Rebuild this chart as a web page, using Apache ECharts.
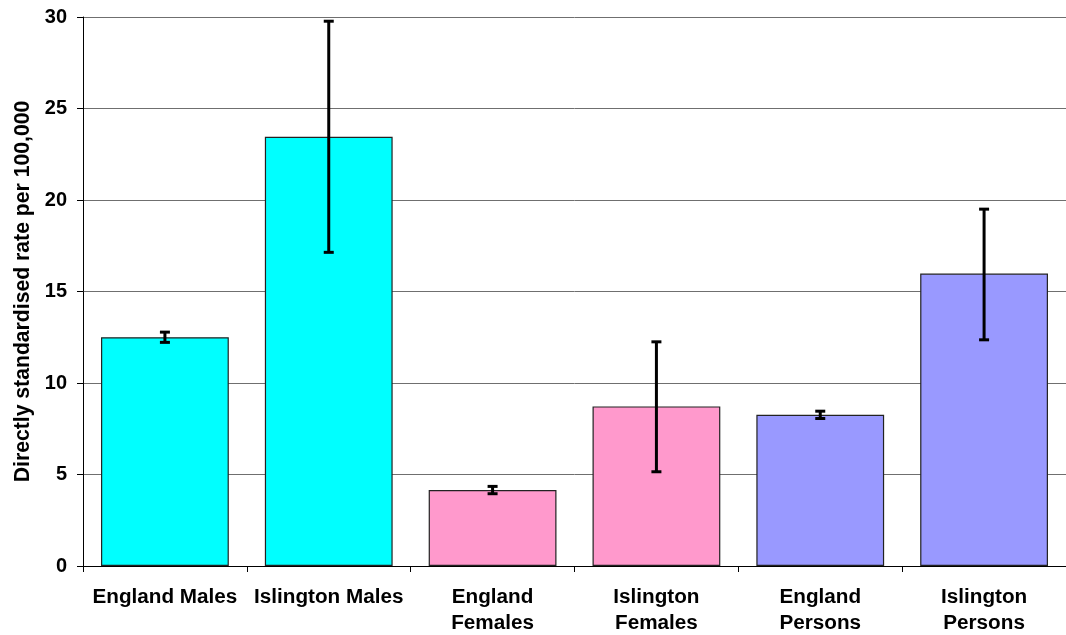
<!DOCTYPE html>
<html>
<head>
<meta charset="utf-8">
<script src="https://cdn.jsdelivr.net/npm/echarts@6/dist/echarts.min.js"></script>
<style>
  html, body { margin: 0; padding: 0; background: #fff; }
  #chart { width: 1066px; height: 635px; }
</style>
</head>
<body>
<div id="chart"></div>
<script>
// Directly standardised rates per 100,000 with 95% confidence intervals
const categories = ['England Males', 'Islington Males', 'England\nFemales', 'Islington\nFemales', 'England\nPersons', 'Islington\nPersons'];
const rates = [12.5, 23.45, 4.15, 8.72, 8.26, 15.98];
const lowerCI = [12.22, 17.14, 3.95, 5.15, 8.06, 12.36];
const upperCI = [12.78, 29.77, 4.35, 12.25, 8.46, 19.5];
const barColors = ['#00FFFF', '#00FFFF', '#FF99CC', '#FF99CC', '#9999FF', '#9999FF'];
const yTicks = [0, 5, 10, 15, 20, 25, 30];

const font = 'Liberation Sans, Arial, sans-serif';
const chart = echarts.init(document.getElementById('chart'), null, { renderer: 'canvas' });

chart.setOption({
  animation: false,
  grid: { left: 83, right: 0, top: 17, bottom: 69, containLabel: false, outerBoundsMode: 'none' },
  xAxis: {
    type: 'category',
    data: categories,
    axisLine: { lineStyle: { color: '#000', width: 1 } },
    axisTick: { show: true, length: 6, lineStyle: { color: '#000' }, alignWithLabel: false },
    axisLabel: {
      interval: 0, margin: 18, color: '#000', fontFamily: font,
      fontWeight: 'bold', fontSize: 20.7, lineHeight: 26
    }
  },
  yAxis: {
    type: 'value',
    min: yTicks[0], max: yTicks[yTicks.length - 1], interval: 5,
    name: 'Directly standardised rate per 100,000',
    nameLocation: 'middle', nameGap: 49, nameRotate: 90,
    nameTextStyle: { color: '#000', fontFamily: font, fontWeight: 'bold', fontSize: 21.2 },
    axisLine: { show: true, lineStyle: { color: '#000', width: 1 } },
    axisTick: { show: true, length: 6, lineStyle: { color: '#000' } },
    axisLabel: { margin: 16, color: '#000', fontFamily: font, fontWeight: 'bold', fontSize: 20 },
    splitLine: { show: true, lineStyle: { color: '#6f6f6f', width: 1 } }
  },
  series: [
    {
      type: 'bar',
      barCategoryGap: '22%',
      data: rates.map((v, i) => ({ value: v, itemStyle: { color: barColors[i] } })),
      itemStyle: { borderColor: '#222', borderWidth: 1.2 }
    },
    {
      type: 'custom',
      z: 10,
      data: rates.map((v, i) => [i, lowerCI[i], upperCI[i]]),
      renderItem: function (params, api) {
        const x = api.value(0);
        const lo = api.coord([x, api.value(1)]);
        const hi = api.coord([x, api.value(2)]);
        const half = 5;
        const style = { stroke: '#000', lineWidth: 3 };
        return {
          type: 'group',
          children: [
            { type: 'line', shape: { x1: lo[0], y1: lo[1], x2: hi[0], y2: hi[1] }, style: style },
            { type: 'line', shape: { x1: lo[0] - half, y1: lo[1], x2: lo[0] + half, y2: lo[1] }, style: style },
            { type: 'line', shape: { x1: hi[0] - half, y1: hi[1], x2: hi[0] + half, y2: hi[1] }, style: style }
          ]
        };
      }
    }
  ]
});
</script>
</body>
</html>
